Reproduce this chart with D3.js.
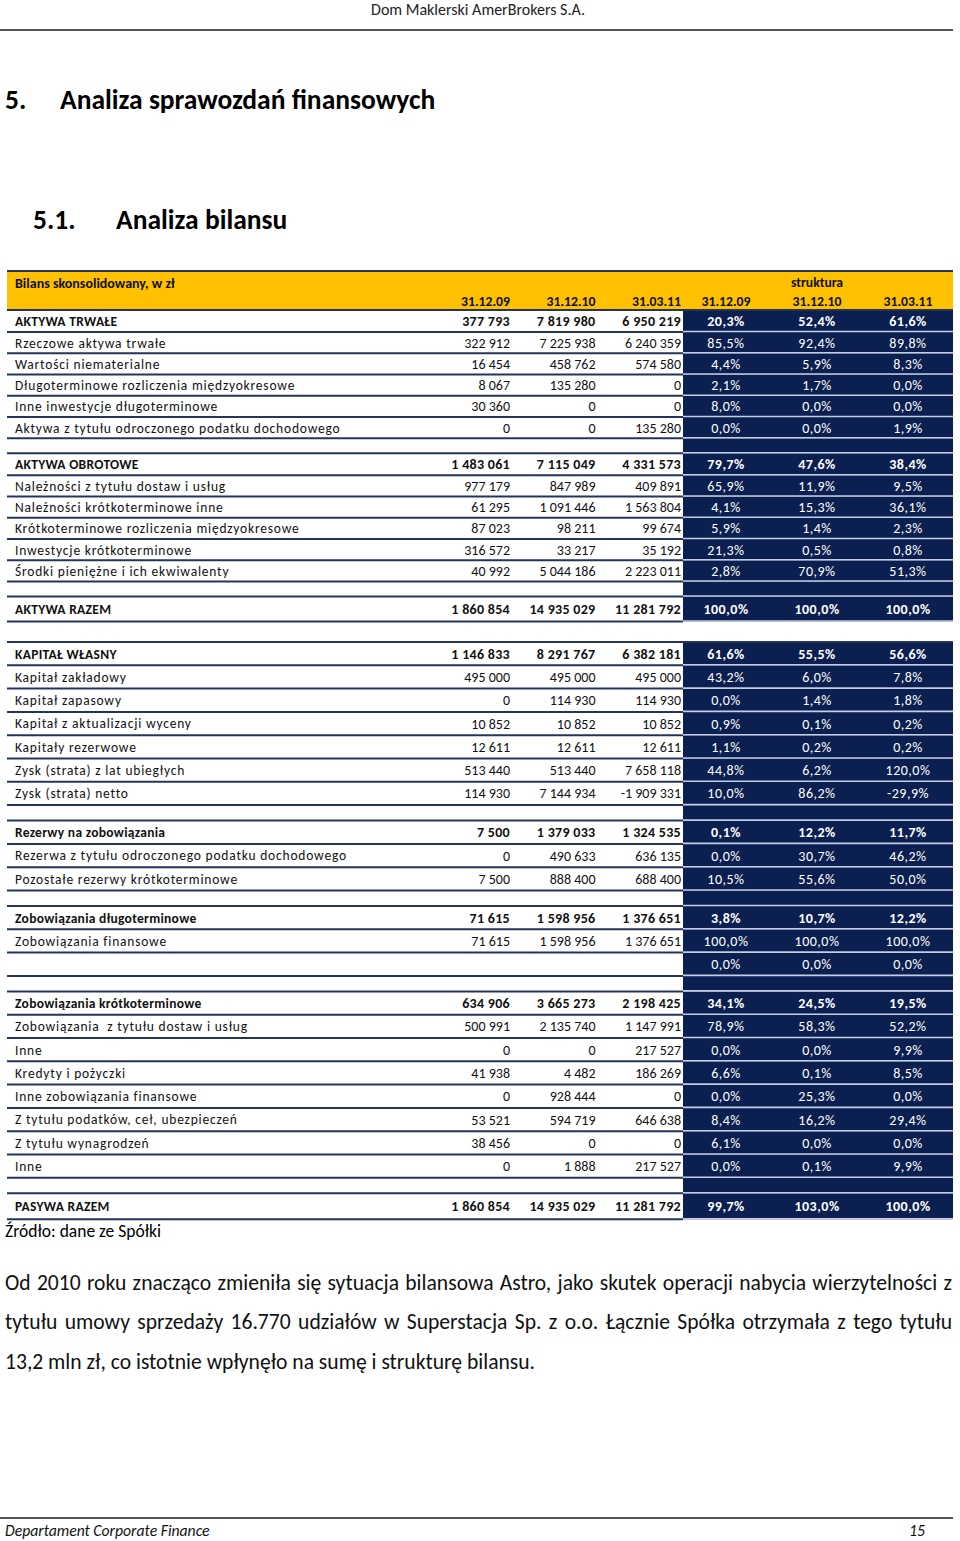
<!DOCTYPE html>
<html><head><meta charset="utf-8">
<script src="https://cdn.jsdelivr.net/npm/d3@7"></script>
<style>
body{margin:0;background:#fff}
svg text{font-family:Carlito,Lato,sans-serif;white-space:pre}
</style></head><body>
<svg id="c" width="960" height="1541"></svg>
<script>
// ---------- DATA ----------
const periods = ["31.12.09", "31.12.10", "31.03.11"];
const tableTitle = "Bilans skonsolidowany, w zł";
const structureTitle = "struktura";
const labels = [
  "AKTYWA TRWAŁE","Rzeczowe aktywa trwałe","Wartości niematerialne","Długoterminowe rozliczenia międzyokresowe",
  "Inne inwestycje długoterminowe","Aktywa z tytułu odroczonego podatku dochodowego","",
  "AKTYWA OBROTOWE","Należności z tytułu dostaw i usług","Należności krótkoterminowe inne",
  "Krótkoterminowe rozliczenia międzyokresowe","Inwestycje krótkoterminowe","Środki pieniężne i ich ekwiwalenty","",
  "AKTYWA RAZEM","",
  "KAPITAŁ WŁASNY","Kapitał zakładowy","Kapitał zapasowy","Kapitał z aktualizacji wyceny","Kapitały rezerwowe",
  "Zysk (strata) z lat ubiegłych","Zysk (strata) netto","",
  "Rezerwy na zobowiązania","Rezerwa z tytułu odroczonego podatku dochodowego","Pozostałe rezerwy krótkoterminowe","",
  "Zobowiązania długoterminowe","Zobowiązania finansowe","","",
  "Zobowiązania krótkoterminowe","Zobowiązania  z tytułu dostaw i usług","Inne","Kredyty i pożyczki",
  "Inne zobowiązania finansowe","Z tytułu podatków, ceł, ubezpieczeń","Z tytułu wynagrodzeń","Inne","",
  "PASYWA RAZEM"
];
// h = bold heading, n = normal, s = spacer, t = total, g = gap between sections
const rowTypes = [
  "h","n","n","n","n","n","s",
  "h","n","n","n","n","n","s",
  "t","g",
  "h","n","n","n","n","n","n","s",
  "h","n","n","s",
  "h","n","n","s",
  "h","n","n","n","n","n","n","n","s",
  "t"
];
const val09 = [377793,322912,16454,8067,30360,0,null, 1483061,977179,61295,87023,316572,40992,null, 1860854,null,
  1146833,495000,0,10852,12611,513440,114930,null, 7500,0,7500,null, 71615,71615,null,null,
  634906,500991,0,41938,0,53521,38456,0,null, 1860854];
const val10 = [7819980,7225938,458762,135280,0,0,null, 7115049,847989,1091446,98211,33217,5044186,null, 14935029,null,
  8291767,495000,114930,10852,12611,513440,7144934,null, 1379033,490633,888400,null, 1598956,1598956,null,null,
  3665273,2135740,0,4482,928444,594719,0,1888,null, 14935029];
const val11 = [6950219,6240359,574580,0,0,135280,null, 4331573,409891,1563804,99674,35192,2223011,null, 11281792,null,
  6382181,495000,114930,10852,12611,7658118,-1909331,null, 1324535,636135,688400,null, 1376651,1376651,null,null,
  2198425,1147991,217527,186269,0,646638,0,217527,null, 11281792];
const pct09 = [20.3,85.5,4.4,2.1,8.0,0.0,null, 79.7,65.9,4.1,5.9,21.3,2.8,null, 100.0,null,
  61.6,43.2,0.0,0.9,1.1,44.8,10.0,null, 0.1,0.0,10.5,null, 3.8,100.0,0.0,null,
  34.1,78.9,0.0,6.6,0.0,8.4,6.1,0.0,null, 99.7];
const pct10 = [52.4,92.4,5.9,1.7,0.0,0.0,null, 47.6,11.9,15.3,1.4,0.5,70.9,null, 100.0,null,
  55.5,6.0,1.4,0.1,0.2,6.2,86.2,null, 12.2,30.7,55.6,null, 10.7,100.0,0.0,null,
  24.5,58.3,0.0,0.1,25.3,16.2,0.0,0.1,null, 103.0];
const pct11 = [61.6,89.8,8.3,0.0,0.0,1.9,null, 38.4,9.5,36.1,2.3,0.8,51.3,null, 100.0,null,
  56.6,7.8,1.8,0.2,0.2,120.0,-29.9,null, 11.7,46.2,50.0,null, 12.2,100.0,0.0,null,
  19.5,52.2,9.9,8.5,0.0,29.4,0.0,9.9,null, 100.0];
const pageHeader = "Dom Maklerski AmerBrokers S.A.";
const heading1 = ["5.", "Analiza sprawozdań finansowych"];
const heading2 = ["5.1.", "Analiza bilansu"];
const sourceNote = "Źródło: dane ze Spółki";
const paragraphLines = [
  "Od 2010 roku znacząco zmieniła się sytuacja bilansowa Astro, jako skutek operacji nabycia wierzytelności z",
  "tytułu umowy sprzedaży 16.770 udziałów w Superstacja Sp. z o.o. Łącznie Spółka otrzymała z tego tytułu",
  "13,2 mln zł, co istotnie wpłynęło na sumę i strukturę bilansu."
];
const footerLeft = "Departament Corporate Finance";
const footerRight = "15";

// ---------- LAYOUT ----------
const svg = d3.select("#c");
const NAVY = "#0b1f51", YELLOW = "#ffc000", LINE = "#24345a", SEP = "#c3cde3";
const tableLeft = 7, tableRight = 953, navyLeft = 683;
const headerTop = 271, headerBottom = 310;

const locale = d3.formatLocale({decimal: ",", thousands: "\u00a0", grouping: [3], currency: ["", " zł"], minus: "-"});
const fmtNum = locale.format(",d");
const fmtPct = v => locale.format(".1f")(v) + "%";

const numX = d3.scaleLinear().domain([0, 2]).range([510, 681]);
const pctX = d3.scaleLinear().domain([0, 2]).range([726, 908]);

const heightsA = {h: 22, n: 21.25, s: 15, t: 25};
const heightsL = {h: 23.3, n: 23.3, s: 15.5, t: 26};
let y = headerBottom, sec = "A";
const rows = labels.map((lab, i) => {
  const type = rowTypes[i];
  let h;
  if (type === "g") { h = 20.5; sec = "L"; }
  else h = (sec === "A" ? heightsA : heightsL)[type];
  const r = {i, lab, type, y0: y, h, vals: [val09[i], val10[i], val11[i]], pcts: [pct09[i], pct10[i], pct11[i]]};
  y += h;
  return r;
});

// page header
svg.append("text").attr("x", 478).attr("y", 9).attr("dy", "0.35em").attr("text-anchor", "middle")
  .attr("font-size", 16).attr("fill", "#222").text(pageHeader);
svg.append("line").attr("x1", 0).attr("x2", 953).attr("y1", 30).attr("y2", 30).attr("stroke", "#555").attr("stroke-width", 2);

// headings
const hg = svg.append("g").attr("font-weight", "bold").attr("font-size", 27.5).attr("fill", "#000");
hg.append("text").attr("x", 5).attr("y", 109).text(heading1[0]);
hg.append("text").attr("x", 60).attr("y", 109).text(heading1[1]);
hg.append("text").attr("x", 33).attr("y", 229).text(heading2[0]);
hg.append("text").attr("x", 116).attr("y", 229).text(heading2[1]);

// table header
svg.append("rect").attr("x", tableLeft).attr("y", headerTop).attr("width", tableRight - tableLeft)
  .attr("height", headerBottom - headerTop).attr("fill", YELLOW);
const th = svg.append("g").attr("font-weight", "bold").attr("font-size", 13.7).attr("fill", "#111");
th.append("text").attr("x", 15).attr("y", 283).attr("dy", "0.35em").attr("font-size", 14).text(tableTitle);
th.append("text").attr("x", pctX(1)).attr("y", 282).attr("dy", "0.35em").attr("text-anchor", "middle").text(structureTitle);
th.selectAll(".hn").data(periods).join("text").attr("x", (d, i) => numX(i)).attr("y", 301).attr("dy", "0.35em")
  .attr("text-anchor", "end").text(d => d);
th.selectAll(".hp").data(periods).join("text").attr("x", (d, i) => pctX(i)).attr("y", 301).attr("dy", "0.35em")
  .attr("text-anchor", "middle").text(d => d);

// navy fills
const body = svg.append("g");
const tableRows = rows.filter(r => r.type !== "g");
body.selectAll("rect.navy").data(tableRows).join("rect").attr("class", "navy")
  .attr("x", navyLeft).attr("y", r => r.y0).attr("width", tableRight - navyLeft).attr("height", r => r.h)
  .attr("fill", NAVY);
body.selectAll("line.sep").data(tableRows).join("line").attr("class", "sep")
  .attr("x1", navyLeft).attr("x2", tableRight).attr("y1", r => r.y0 + r.h - 0.5).attr("y2", r => r.y0 + r.h - 0.5)
  .attr("stroke", SEP).attr("stroke-width", 1.6);
body.selectAll("line.rl").data(tableRows).join("line").attr("class", "rl")
  .attr("x1", tableLeft).attr("x2", navyLeft).attr("y1", r => r.y0 + r.h).attr("y2", r => r.y0 + r.h)
  .attr("stroke", LINE).attr("stroke-width", 2);
[headerTop, headerBottom].forEach(v => body.append("line").attr("x1", tableLeft).attr("x2", tableRight)
  .attr("y1", v).attr("y2", v).attr("stroke", LINE).attr("stroke-width", 2));
rows.filter(r => r.type === "g").forEach(r => body.append("line").attr("x1", tableLeft).attr("x2", tableRight)
  .attr("y1", r.y0 + r.h).attr("y2", r.y0 + r.h).attr("stroke", LINE).attr("stroke-width", 2));

// cell texts
const isBold = r => r.type === "h" || r.type === "t";
const textRows = tableRows.filter(r => r.type !== "s");
const rg = body.selectAll("g.row").data(textRows).join("g").attr("class", "row")
  .attr("transform", r => `translate(0,${r.y0 + r.h / 2})`)
  .attr("font-weight", r => isBold(r) ? "bold" : "normal")
  .attr("font-size", 14);
rg.append("text").attr("x", 15).attr("dy", "0.36em").attr("fill", "#111")
  .attr("letter-spacing", r => isBold(r) ? 0.3 : 0.8).attr("font-size", 13.5)
  .text(r => r.lab);
rg.selectAll("text.v").data(r => r.vals.map(v => ({v, b: isBold(r)}))).join("text").attr("class", "v")
  .attr("x", (d, i) => numX(i)).attr("dy", "0.36em").attr("text-anchor", "end").attr("fill", "#111")
  .attr("letter-spacing", d => d.b ? 0.3 : 0)
  .text(d => d.v == null ? "" : fmtNum(d.v));
rg.selectAll("text.p").data(r => r.pcts).join("text").attr("class", "p")
  .attr("x", (d, i) => pctX(i)).attr("dy", "0.36em").attr("text-anchor", "middle").attr("fill", "#fff")
  .attr("letter-spacing", 0.5)
  .text(d => d == null ? "" : fmtPct(d));

// source note
svg.append("text").attr("x", 5).attr("y", 1231).attr("dy", "0.35em").attr("font-size", 17.5).attr("fill", "#000").text(sourceNote);

// paragraph (justified)
const parX0 = 5, parX1 = 952;
const lineY = d3.scaleLinear().domain([0, 2]).range([1282, 1361]);
paragraphLines.forEach((ln, li) => {
  const g = svg.append("g").attr("font-size", 21.6).attr("fill", "#111");
  const words = ln.split(" ");
  const ts = words.map(w => g.append("text").attr("y", lineY(li)).attr("dy", "0.35em").text(w));
  const widths = ts.map(t => t.node().getComputedTextLength());
  const total = d3.sum(widths);
  const justify = li < paragraphLines.length - 1;
  const spaceW = justify ? (parX1 - parX0 - total) / (words.length - 1) : 21.6 * 0.226;
  let x = parX0;
  ts.forEach((t, k) => { t.attr("x", x); x += widths[k] + spaceW; });
});

// footer
svg.append("line").attr("x1", 0).attr("x2", 953).attr("y1", 1518).attr("y2", 1518).attr("stroke", "#555").attr("stroke-width", 2);
svg.append("text").attr("x", 5).attr("y", 1531).attr("dy", "0.35em").attr("font-size", 15.7).attr("font-style", "italic")
  .attr("fill", "#111").text(footerLeft);
svg.append("text").attr("x", 925).attr("y", 1531).attr("dy", "0.35em").attr("font-size", 15.7).attr("font-style", "italic")
  .attr("text-anchor", "end").attr("fill", "#111").text(footerRight);
</script>
</body></html>
